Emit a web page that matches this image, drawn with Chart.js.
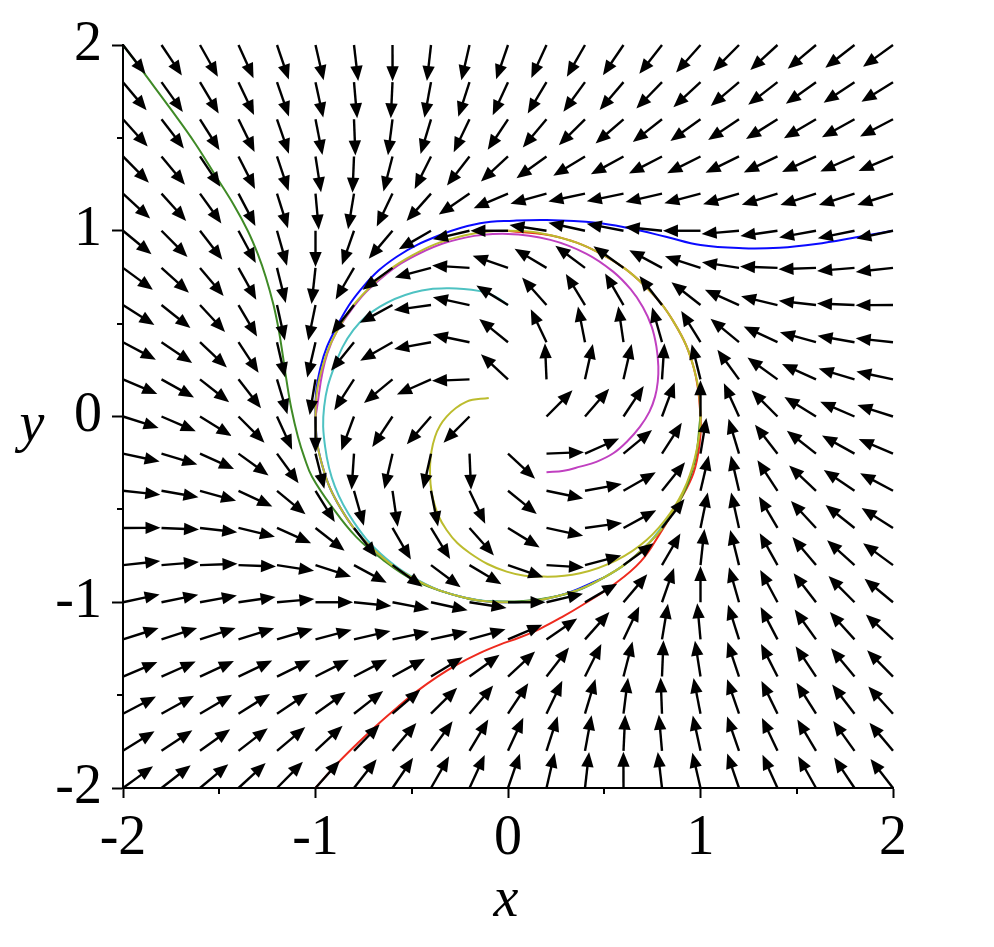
<!DOCTYPE html>
<html>
<head>
<meta charset="utf-8">
<script src="https://cdn.jsdelivr.net/npm/chart.js@4.4.1/dist/chart.umd.min.js"></script>
<style>
  html, body { margin: 0; padding: 0; background: #fff; }
  canvas { display: block; }
</style>
</head>
<body>
<canvas id="phase" width="994" height="947"></canvas>
<script>
// grid where the field arrows have their tails
const gridX = [-2, -1.8, -1.6, -1.4, -1.2, -1, -0.8, -0.6, -0.4, -0.2, 0, 0.2, 0.4, 0.6, 0.8, 1, 1.2, 1.4, 1.6, 1.8, 2]
const gridY = [-2, -1.8, -1.6, -1.4, -1.2, -1, -0.8, -0.6, -0.4, -0.2, 0, 0.2, 0.4, 0.6, 0.8, 1, 1.2, 1.4, 1.6, 1.8, 2]

// tick values
const majorTicks = [-2, -1, 0, 1, 2]
const minorTicks = [-1.5, -0.5, 0.5, 1.5]

// solution curves as [x, y]
const blueCurve = [
    [2.0, 1.0], [1.81, 0.965], [1.6, 0.929], [1.41, 0.909], [1.22, 0.906], [1.0, 0.923],
    [0.82, 0.968], [0.63, 1.013], [0.46, 1.043], [0.2, 1.058], [0.03, 1.054], [-0.145, 1.04],
    [-0.353, 0.977], [-0.578, 0.86], [-0.752, 0.699], [-0.89, 0.483], [-0.975, 0.26],
    [-1.0, 0.0], [-0.966, -0.259], [-0.866, -0.5], [-0.707, -0.707], [-0.5, -0.866],
    [-0.259, -0.966], [0.0, -1.0], [0.259, -0.966], [0.5, -0.866]
]
const redCurve = [
    [-1.0, -2.0], [-0.89, -1.872], [-0.78, -1.758], [-0.674, -1.655], [-0.574, -1.565],
    [-0.474, -1.48], [-0.37, -1.403], [-0.267, -1.337], [-0.15, -1.275], [-0.042, -1.228],
    [0.06, -1.19], [0.166, -1.143], [0.28, -1.08], [0.391, -1.012], [0.547, -0.907],
    [0.69, -0.78], [0.79, -0.629], [0.894, -0.45], [0.963, -0.306], [0.995, -0.15],
    [1.0, 0.0], [0.966, 0.259], [0.866, 0.5], [0.707, 0.707], [0.5, 0.866], [0.259, 0.966], [0.0, 1.0]
]
const greenCurve = [
    [-2.0, 2.0], [-1.87, 1.82], [-1.745, 1.645], [-1.625, 1.47], [-1.515, 1.289], [-1.425, 1.14],
    [-1.352, 1.0], [-1.3, 0.875], [-1.258, 0.75], [-1.218, 0.6], [-1.191, 0.466], [-1.17, 0.33],
    [-1.15, 0.19], [-1.125, 0.04], [-1.091, -0.11], [-1.058, -0.22], [-1.018, -0.324],
    [-0.915, -0.486], [-0.79, -0.647], [-0.648, -0.773], [-0.492, -0.88], [-0.3, -0.955],
    [-0.1, -0.995], [0.259, -0.966], [0.5, -0.866], [0.707, -0.707], [0.866, -0.5],
    [0.966, -0.259], [1.0, 0.0]
]
const cyanCurve = [
    [0.0, 0.6], [-0.07, 0.648], [-0.145, 0.675], [-0.319, 0.69], [-0.492, 0.668], [-0.665, 0.591],
    [-0.803, 0.466], [-0.902, 0.268], [-0.955, 0.053], [-0.95, -0.163], [-0.899, -0.378],
    [-0.8, -0.57], [-0.66, -0.74], [-0.46, -0.885], [-0.259, -0.966], [0.0, -1.0],
    [0.259, -0.966], [0.5, -0.866], [0.707, -0.707], [0.866, -0.5]
]
const magentaCurve = [
    [0.2, -0.3], [0.29, -0.292], [0.374, -0.27], [0.459, -0.244], [0.547, -0.198], [0.621, -0.132],
    [0.686, -0.055], [0.735, 0.026], [0.764, 0.107], [0.778, 0.187], [0.781, 0.269], [0.771, 0.376],
    [0.746, 0.485], [0.701, 0.588], [0.638, 0.684], [0.546, 0.78], [0.408, 0.876], [0.22, 0.951],
    [0.0, 0.983], [-0.222, 0.963], [-0.45, 0.883], [-0.652, 0.75], [-0.816, 0.571],
    [-0.938, 0.341], [-1.0, 0.0]
]
const yellowCurve = [
    [-0.1, 0.1], [-0.215, 0.08], [-0.319, -0.001], [-0.379, -0.109], [-0.405, -0.27],
    [-0.388, -0.45], [-0.319, -0.611], [-0.197, -0.736], [-0.007, -0.835], [0.183, -0.862],
    [0.374, -0.844], [0.565, -0.773], [0.72, -0.665], [0.842, -0.521], [0.928, -0.36],
    [0.98, -0.18], [1.0, 0.0], [0.966, 0.259], [0.866, 0.5], [0.707, 0.707], [0.5, 0.866],
    [0.259, 0.966], [0.0, 1.0], [-0.259, 0.966], [-0.5, 0.866], [-0.707, 0.707], [-0.866, 0.5],
    [-0.966, 0.259], [-1.0, 0.0], [-0.966, -0.259], [-0.866, -0.5], [-0.707, -0.707],
    [-0.5, -0.866], [-0.259, -0.966], [0.0, -1.0], [0.259, -0.966], [0.5, -0.866],
    [0.707, -0.707], [0.866, -0.5], [0.966, -0.259]
]

// the system behind the arrows: x' = -y + x(1 - r^2), y' = x + y(1 - r^2)
function fieldDir(x, y) {
    const k = 1 - x * x - y * y
    return [-y + x * k, x + y * k]
}

const ARROW_LEN = 0.195
const SERIF = '"Liberation Serif", "Times New Roman", serif'

function curve(points, color) {
    return {
        data: points.map(([x, y]) => ({ x, y })),
        showLine: true,
        borderColor: color,
        borderWidth: 2,
        pointRadius: 0,
        tension: 0.4,
        fill: false
    }
}

// black direction arrows on the grid
const arrowPlugin = {
    id: 'arrows',
    afterDatasetsDraw(chart) {
        const ctx = chart.ctx
        const xs = chart.scales.x
        const ys = chart.scales.y
        ctx.save()
        ctx.strokeStyle = '#000'
        ctx.fillStyle = '#000'
        ctx.lineWidth = 2.4
        for (const gy of gridY) {
            for (const gx of gridX) {
                const [u, v] = fieldDir(gx, gy)
                const m = Math.hypot(u, v)
                if (m < 1e-9) continue
                const x0 = xs.getPixelForValue(gx)
                const y0 = ys.getPixelForValue(gy)
                const x1 = xs.getPixelForValue(gx + ARROW_LEN * u / m)
                const y1 = ys.getPixelForValue(gy + ARROW_LEN * v / m)
                const a = Math.atan2(y1 - y0, x1 - x0)
                const hl = 15, hw = 6.2
                const bx = x1 - hl * Math.cos(a)
                const by = y1 - hl * Math.sin(a)
                ctx.beginPath()
                ctx.moveTo(x0, y0)
                ctx.lineTo(bx + 2 * Math.cos(a), by + 2 * Math.sin(a))
                ctx.stroke()
                ctx.beginPath()
                ctx.moveTo(x1, y1)
                ctx.lineTo(bx + hw * Math.sin(a), by - hw * Math.cos(a))
                ctx.lineTo(bx - hw * Math.sin(a), by + hw * Math.cos(a))
                ctx.closePath()
                ctx.fill()
            }
        }
        ctx.restore()
    }
}

// minor ticks and the upright axis names
const extrasPlugin = {
    id: 'extras',
    afterDraw(chart) {
        const ctx = chart.ctx
        const xs = chart.scales.x
        const ys = chart.scales.y
        const area = chart.chartArea
        ctx.save()
        ctx.strokeStyle = '#000'
        ctx.lineWidth = 2
        for (const t of minorTicks) {
            const px = Math.round(xs.getPixelForValue(t))
            ctx.beginPath()
            ctx.moveTo(px, area.bottom)
            ctx.lineTo(px, area.bottom + 6)
            ctx.stroke()
            const py = Math.round(ys.getPixelForValue(t))
            ctx.beginPath()
            ctx.moveTo(area.left, py)
            ctx.lineTo(area.left - 6, py)
            ctx.stroke()
        }
        ctx.fillStyle = '#000'
        ctx.font = 'italic 56px ' + SERIF
        ctx.textAlign = 'center'
        ctx.textBaseline = 'alphabetic'
        ctx.fillText('x', (area.left + area.right) / 2 - 2, 916)
        ctx.fillText('y', 32, 441)
        ctx.restore()
    }
}

const tickFont = { family: SERIF, size: 56 }

new Chart(document.getElementById('phase'), {
    type: 'scatter',
    data: {
        datasets: [
            curve(yellowCurve, '#bcbc2e'),
            curve(magentaCurve, '#c040c0'),
            curve(cyanCurve, '#4ec2c2'),
            curve(greenCurve, '#3f8a26'),
            curve(redCurve, '#ee2a1e'),
            curve(blueCurve, '#0a0aff')
        ]
    },
    options: {
        responsive: false,
        animation: false,
        layout: { padding: { left: 0, right: 101, top: 45, bottom: 0 } },
        plugins: { legend: { display: false }, tooltip: { enabled: false } },
        scales: {
            x: {
                type: 'linear',
                min: -2,
                max: 2,
                afterFit: (s) => { s.height = 159 },
                afterBuildTicks: (s) => { s.ticks = majorTicks.map(v => ({ value: v })) },
                ticks: { color: '#000', font: tickFont, padding: 8, callback: v => String(v) },
                grid: { drawOnChartArea: false, tickLength: 10, tickWidth: 2, tickColor: '#000' },
                border: { color: '#000', width: 2 }
            },
            y: {
                type: 'linear',
                min: -2,
                max: 2,
                afterFit: (s) => { s.width = 123 },
                afterBuildTicks: (s) => { s.ticks = majorTicks.map(v => ({ value: v })) },
                ticks: { color: '#000', font: tickFont, padding: 10, callback: v => String(v) },
                grid: { drawOnChartArea: false, tickLength: 11, tickWidth: 2, tickColor: '#000' },
                border: { color: '#000', width: 2 }
            }
        }
    },
    plugins: [arrowPlugin, extrasPlugin]
});
</script>
</body>
</html>
